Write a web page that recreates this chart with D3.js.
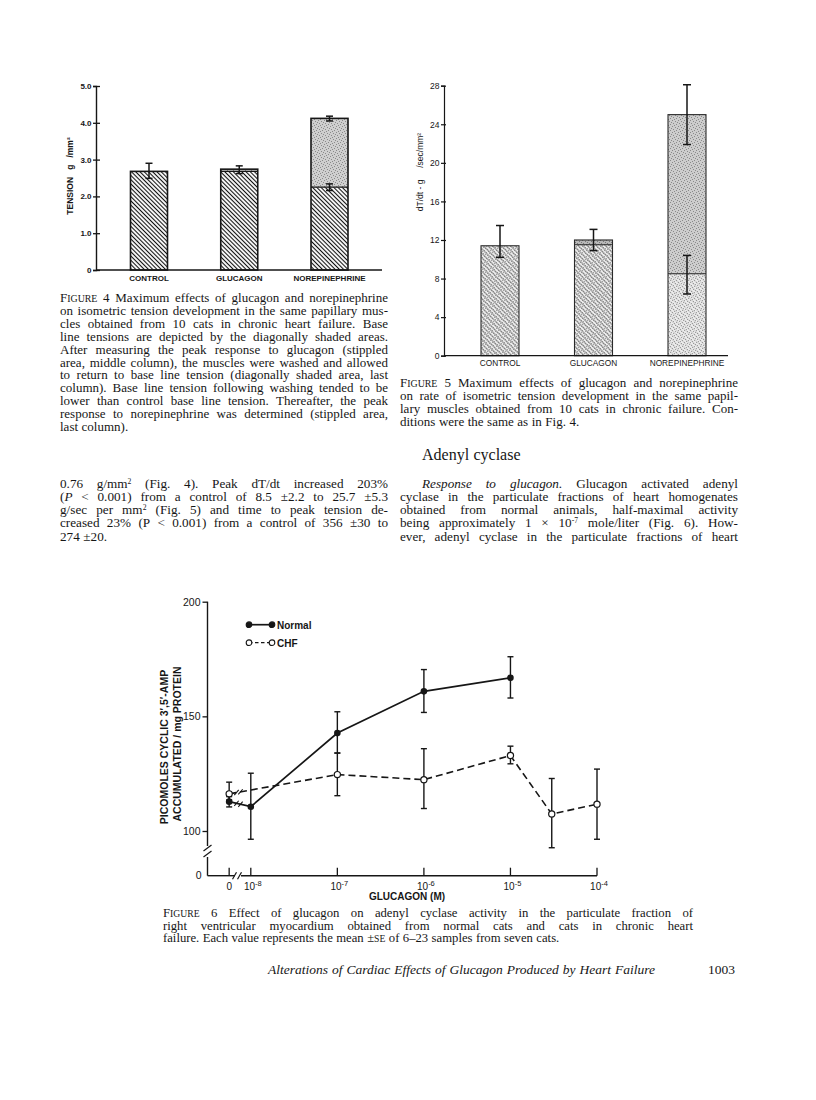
<!DOCTYPE html>
<html><head><meta charset="utf-8">
<script src="https://cdn.jsdelivr.net/npm/d3@7"></script>
<style>body{margin:0;background:#fff}svg{display:block}</style>
</head><body>
<svg id="page" width="816" height="1100"></svg>
<script>
// ---------------- DATA ----------------
// Figure 4 (tension, g/mm2)
const fig4Categories = ["CONTROL", "GLUCAGON", "NOREPINEPHRINE"];
const fig4Base = [2.68, 2.68, 2.25];
const fig4Peak = [2.68, 2.74, 4.12];
const fig4YTicks = [0, 1, 2, 3, 4, 5];
const fig4YTickLabels = ["0", "1.0", "2.0", "3.0", "4.0", "5.0"];
const fig4ErrCategory = ["CONTROL", "GLUCAGON", "NOREPINEPHRINE", "NOREPINEPHRINE"];
const fig4ErrLow = [2.49, 2.62, 4.05, 2.16];
const fig4ErrHigh = [2.90, 2.83, 4.18, 2.34];

// Figure 5 (dT/dt, g/sec/mm2)
const fig5Categories = ["CONTROL", "GLUCAGON", "NOREPINEPHRINE"];
const fig5Base = [11.4, 11.5, 8.5];
const fig5Peak = [11.4, 12.0, 25.0];
const fig5YTicks = [0, 4, 8, 12, 16, 20, 24, 28];
const fig5ErrCategory = ["CONTROL", "GLUCAGON", "NOREPINEPHRINE", "NOREPINEPHRINE"];
const fig5ErrLow = [10.2, 10.9, 21.9, 6.4];
const fig5ErrHigh = [13.5, 13.1, 28.1, 10.4];

// Figure 6 (picomoles cyclic 3',5'-AMP / mg protein)
const fig6Series = ["Normal", "CHF"];
const fig6NormalConc = [0, 1e-8, 1e-7, 1e-6, 1e-5];
const fig6NormalMean = [112.8, 110.6, 142.7, 160.9, 166.8];
const fig6NormalLow = [110.5, 96.4, 134.0, 151.7, 158.0];
const fig6NormalHigh = [115.0, 125.2, 152.0, 170.4, 176.0];
const fig6ChfConc = [0, 1e-7, 1e-6, 1e-5, 3e-5, 1e-4];
const fig6ChfMean = [116.2, 124.6, 122.4, 132.9, 107.4, 111.7];
const fig6ChfLow = [113.5, 115.4, 109.8, 129.3, 92.7, 96.4];
const fig6ChfHigh = [121.3, 134.0, 135.9, 137.0, 122.9, 127.0];
const fig6XTicks = [0, 1e-8, 1e-7, 1e-6, 1e-5, 1e-4];
const fig6XTickExponents = [null, "-8", "-7", "-6", "-5", "-4"];
const fig6YTicks = [100, 150, 200];

// Text
const fig4Caption = [
  "F~IGURE~ 4 Maximum effects of glucagon and norepinephrine",
  "on isometric tension development in the same papillary mus-",
  "cles obtained from 10 cats in chronic heart failure. Base",
  "line tensions are depicted by the diagonally shaded areas.",
  "After measuring the peak response to glucagon (stippled",
  "area, middle column), the muscles were washed and allowed",
  "to return to base line tension (diagonally shaded area, last",
  "column). Base line tension following washing tended to be",
  "lower than control base line tension. Thereafter, the peak",
  "response to norepinephrine was determined (stippled area,",
  "last column)."
];
const fig5Caption = [
  "F~IGURE~ 5 Maximum effects of glucagon and norepinephrine",
  "on rate of isometric tension development in the same papil-",
  "lary muscles obtained from 10 cats in chronic failure. Con-",
  "ditions were the same as in Fig. 4."
];
const leftParagraph = [
  "0.76 g/mm^2^ (Fig. 4). Peak dT/dt increased 203%",
  "(_P_ < 0.001) from a control of 8.5 ±2.2 to 25.7 ±5.3",
  "g/sec per mm^2^ (Fig. 5) and time to peak tension de-",
  "creased 23% (P < 0.001) from a control of 356 ±30 to",
  "274 ±20."
];
const rightHeading = "Adenyl cyclase";
const rightParagraph = [
  "_Response_ _to_ _glucagon._ Glucagon activated adenyl",
  "cyclase in the particulate fractions of heart homogenates",
  "obtained from normal animals, half-maximal activity",
  "being approximately 1 × 10^-7^ mole/liter (Fig. 6). How-",
  "ever, adenyl cyclase in the particulate fractions of heart"
];
const fig6Caption = [
  "F~IGURE~ 6 Effect of glucagon on adenyl cyclase activity in the particulate fraction of",
  "right ventricular myocardium obtained from normal cats and cats in chronic heart",
  "failure. Each value represents the mean ±~SE~ of 6–23 samples from seven cats."
];
const footerTitle = "Alterations of Cardiac Effects of Glucagon Produced by Heart Failure";
const pageNumber = "1003";

// ---------------- SETUP ----------------
const SANS = "Liberation Sans, Arial, sans-serif";
const SERIF = "Liberation Serif, Times New Roman, serif";
const INK = "#161616";
const svg = d3.select("#page");
svg.append("rect").attr("width", 816).attr("height", 1100).attr("fill", "#fff");
const defs = svg.append("defs");

function hatch(id, spacing, stroke, width, bg) {
  const p = defs.append("pattern").attr("id", id).attr("patternUnits", "userSpaceOnUse")
    .attr("width", spacing).attr("height", spacing).attr("patternTransform", "rotate(45)");
  if (bg) p.append("rect").attr("width", spacing).attr("height", spacing).attr("fill", bg);
  p.append("line").attr("x1", 0).attr("x2", spacing).attr("y1", spacing / 2).attr("y2", spacing / 2)
    .attr("stroke", stroke).attr("stroke-width", width);
}
const dotSpots = [[0, 0], [3, 1], [1, 3], [4, 4], [5, 2], [2, 5]];
function stipple(id, bg, dot) {
  const p = defs.append("pattern").attr("id", id).attr("patternUnits", "userSpaceOnUse")
    .attr("width", 6).attr("height", 6);
  p.append("rect").attr("width", 6).attr("height", 6).attr("fill", bg);
  p.selectAll("rect.d").data(dotSpots).join("rect").attr("class", "d")
    .attr("x", d => d[0]).attr("y", d => d[1]).attr("width", 1).attr("height", 1).attr("fill", dot);
}
hatch("hatch4", 3.0, "#111", 1.1, "#fff");
stipple("stip4", "#cfcfcf", "#8a8a8a");
hatch("hatch5", 3.2, "#6a6a6a", 0.8, null);
stipple("stip5light", "#ececec", "#a0a0a0");
stipple("stip5mid", "#cdcdcd", "#8a8a8a");
stipple("stip5dark", "#b8b8b8", "#777");

// ---------------- TEXT HELPERS ----------------
function renderWord(parent, word, y, size, family) {
  const t = parent.append("text").attr("x", 0).attr("y", y).attr("font-size", size)
    .attr("font-family", family).attr("fill", INK);
  const parts = word.split(/(_[^_]+_|\^[^^]+\^|~[^~]+~)/).filter(s => s.length);
  let raised = false;
  const lift = size * 0.3;
  parts.forEach(p => {
    let ts;
    if (p.length > 2 && p[0] === "_" && p.endsWith("_")) {
      ts = t.append("tspan").attr("font-style", "italic").text(p.slice(1, -1));
    } else if (p.length > 2 && p[0] === "^" && p.endsWith("^")) {
      ts = t.append("tspan").attr("font-size", size * 0.58).attr("dy", -lift).text(p.slice(1, -1));
      raised = true;
      return;
    } else if (p.length > 2 && p[0] === "~" && p.endsWith("~")) {
      ts = t.append("tspan").attr("font-size", size * 0.76).text(p.slice(1, -1));
    } else {
      ts = t.append("tspan").text(p);
    }
    if (raised) { ts.attr("dy", lift); raised = false; }
  });
  return t;
}
function textLine(parent, str, x0, width, y, size, opts = {}) {
  const family = opts.family || SERIF;
  const words = str.split(" ").filter(w => w.length);
  const nodes = words.map(w => renderWord(parent, w, y, size, family));
  if (opts.italic) nodes.forEach(n => n.attr("font-style", "italic"));
  const widths = nodes.map(n => n.node().getComputedTextLength());
  const total = d3.sum(widths);
  const gap = (opts.justify && words.length > 1) ? (width - total) / (words.length - 1) : size * 0.27;
  let x = x0;
  nodes.forEach((n, i) => { n.attr("x", x); x += widths[i] + gap; });
}
function paragraph(lines, x0, width, y0, lh, size, lastJustified, indentFirst = 0) {
  const g = svg.append("g");
  lines.forEach((l, i) => {
    const ind = i === 0 ? indentFirst : 0;
    const just = i < lines.length - 1 || lastJustified;
    textLine(g, l, x0 + ind, width - ind, y0 + i * lh, size, { justify: just });
  });
}

// ---------------- FIGURE 4 ----------------
(function () {
  const g = svg.append("g");
  const x = d3.scalePoint().domain(fig4Categories).range([149, 329.5]);
  const y = d3.scaleLinear().domain([0, 5]).range([270, 86]);
  const bw = 37;
  const rows = fig4Categories.map((c, i) => ({ c, base: fig4Base[i], peak: fig4Peak[i] }));
  g.selectAll("rect.base").data(rows).join("rect").attr("class", "base")
    .attr("x", d => x(d.c) - bw / 2).attr("width", bw)
    .attr("y", d => y(d.base)).attr("height", d => y(0) - y(d.base)).attr("fill", "url(#hatch4)");
  g.selectAll("rect.peak").data(rows.filter(d => d.peak > d.base)).join("rect").attr("class", "peak")
    .attr("x", d => x(d.c) - bw / 2).attr("width", bw)
    .attr("y", d => y(d.peak)).attr("height", d => y(d.base) - y(d.peak)).attr("fill", "url(#stip4)");
  g.selectAll("line.split").data(rows.filter(d => d.peak > d.base)).join("line").attr("class", "split")
    .attr("x1", d => x(d.c) - bw / 2).attr("x2", d => x(d.c) + bw / 2)
    .attr("y1", d => y(d.base)).attr("y2", d => y(d.base)).attr("stroke", INK).attr("stroke-width", 1.2);
  g.selectAll("rect.out").data(rows).join("rect").attr("class", "out")
    .attr("x", d => x(d.c) - bw / 2).attr("width", bw)
    .attr("y", d => y(d.peak)).attr("height", d => y(0) - y(d.peak))
    .attr("fill", "none").attr("stroke", INK).attr("stroke-width", 1.6);
  const errs = fig4ErrCategory.map((c, i) => ({ c, lo: fig4ErrLow[i], hi: fig4ErrHigh[i] }));
  const eb = g.selectAll("g.err").data(errs).join("g").attr("class", "err")
    .attr("stroke", INK).attr("stroke-width", 1.5);
  eb.append("line").attr("x1", d => x(d.c)).attr("x2", d => x(d.c)).attr("y1", d => y(d.lo)).attr("y2", d => y(d.hi));
  eb.append("line").attr("x1", d => x(d.c) - 3.5).attr("x2", d => x(d.c) + 3.5).attr("y1", d => y(d.lo)).attr("y2", d => y(d.lo));
  eb.append("line").attr("x1", d => x(d.c) - 3.5).attr("x2", d => x(d.c) + 3.5).attr("y1", d => y(d.hi)).attr("y2", d => y(d.hi));
  const ax = g.append("g").attr("transform", "translate(96,0)")
    .call(d3.axisLeft(y).tickValues(fig4YTicks).tickFormat((d, i) => fig4YTickLabels[i]).tickSizeOuter(0).tickSize(3).tickPadding(1.5));
  ax.select(".domain").attr("stroke", INK).attr("stroke-width", 1.4);
  ax.selectAll(".tick line").attr("x1", 4).attr("x2", -3).attr("stroke", INK).attr("stroke-width", 1.3);
  ax.selectAll(".tick text").attr("font-family", SANS).attr("font-weight", "bold").attr("font-size", 8).attr("fill", INK);
  g.append("line").attr("x1", 96).attr("x2", 382).attr("y1", y(0)).attr("y2", y(0)).attr("stroke", INK).attr("stroke-width", 1.4);
  g.selectAll("text.xl").data(fig4Categories).join("text").attr("class", "xl")
    .attr("x", d => x(d)).attr("y", 280.5).attr("text-anchor", "middle")
    .attr("font-family", SANS).attr("font-weight", "bold").attr("font-size", 8).attr("fill", INK).text(d => d);
  g.append("text").attr("transform", "translate(73,176) rotate(-90)").attr("text-anchor", "middle")
    .attr("font-family", SANS).attr("font-weight", "bold").attr("font-size", 8.5).attr("fill", INK)
    .style("white-space", "pre").text("TENSION   g   /mm²");
})();

// ---------------- FIGURE 5 ----------------
(function () {
  const g = svg.append("g");
  const x = d3.scalePoint().domain(fig5Categories).range([500, 687]);
  const y = d3.scaleLinear().domain([0, 28]).range([355.7, 85.7]);
  const bw = 38;
  const rows = fig5Categories.map((c, i) => ({ c, base: fig5Base[i], peak: fig5Peak[i], i }));
  g.selectAll("rect.base").data(rows).join("rect").attr("class", "base")
    .attr("x", d => x(d.c) - bw / 2).attr("width", bw)
    .attr("y", d => y(d.base)).attr("height", d => y(0) - y(d.base)).attr("fill", "url(#stip5light)");
  g.selectAll("rect.hb").data(rows).join("rect").attr("class", "hb")
    .attr("x", d => x(d.c) - bw / 2).attr("width", bw)
    .attr("y", d => y(d.base)).attr("height", d => y(0) - y(d.base)).attr("fill", "url(#hatch5)")
    .attr("opacity", d => d.i === 2 ? 0.35 : 1);
  g.selectAll("rect.peak").data(rows.filter(d => d.peak > d.base)).join("rect").attr("class", "peak")
    .attr("x", d => x(d.c) - bw / 2).attr("width", bw)
    .attr("y", d => y(d.peak)).attr("height", d => y(d.base) - y(d.peak))
    .attr("fill", d => d.i === 1 ? "url(#stip5dark)" : "url(#stip5mid)");
  g.selectAll("line.split").data(rows.filter(d => d.peak > d.base)).join("line").attr("class", "split")
    .attr("x1", d => x(d.c) - bw / 2).attr("x2", d => x(d.c) + bw / 2)
    .attr("y1", d => y(d.base)).attr("y2", d => y(d.base)).attr("stroke", "#222").attr("stroke-width", 1.1);
  g.selectAll("rect.out").data(rows).join("rect").attr("class", "out")
    .attr("x", d => x(d.c) - bw / 2).attr("width", bw)
    .attr("y", d => y(d.peak)).attr("height", d => y(0) - y(d.peak))
    .attr("fill", "none").attr("stroke", "#2a2a2a").attr("stroke-width", 1.1);
  const errs = fig5ErrCategory.map((c, i) => ({ c, lo: fig5ErrLow[i], hi: fig5ErrHigh[i] }));
  const eb = g.selectAll("g.err").data(errs).join("g").attr("class", "err")
    .attr("stroke", INK).attr("stroke-width", 1.5);
  eb.append("line").attr("x1", d => x(d.c)).attr("x2", d => x(d.c)).attr("y1", d => y(d.lo)).attr("y2", d => y(d.hi));
  eb.append("line").attr("x1", d => x(d.c) - 4).attr("x2", d => x(d.c) + 4).attr("y1", d => y(d.lo)).attr("y2", d => y(d.lo));
  eb.append("line").attr("x1", d => x(d.c) - 4).attr("x2", d => x(d.c) + 4).attr("y1", d => y(d.hi)).attr("y2", d => y(d.hi));
  const ax = g.append("g").attr("transform", "translate(444,0)")
    .call(d3.axisLeft(y).tickValues(fig5YTicks).tickSizeOuter(0).tickSize(3).tickPadding(1.5));
  ax.select(".domain").attr("stroke", INK).attr("stroke-width", 1.2);
  ax.selectAll(".tick line").attr("x1", 2).attr("x2", -3).attr("stroke", INK).attr("stroke-width", 1.2);
  ax.selectAll(".tick text").attr("font-family", SANS).attr("font-size", 8.5).attr("fill", INK);
  g.append("line").attr("x1", 444).attr("x2", 728).attr("y1", y(0)).attr("y2", y(0)).attr("stroke", INK).attr("stroke-width", 1.2);
  g.selectAll("text.xl").data(fig5Categories).join("text").attr("class", "xl")
    .attr("x", d => x(d)).attr("y", 366).attr("text-anchor", "middle")
    .attr("font-family", SANS).attr("font-size", 8.3).attr("fill", INK).text(d => d);
  g.append("text").attr("transform", "translate(423,172) rotate(-90)").attr("text-anchor", "middle")
    .attr("font-family", SANS).attr("font-size", 8.5).attr("fill", INK)
    .style("white-space", "pre").text("dT/dt - g     /sec/mm²");
})();

// ---------------- FIGURE 6 ----------------
(function () {
  const g = svg.append("g");
  const y = d3.scaleLinear().domain([100, 200]).range([831, 601.7]);
  const yZero = 875.7; // broken-axis origin
  const xLog = d3.scaleLog().domain([1e-8, 1e-4]).range([250.8, 597]);
  const x = c => xLog(c === 0 ? Math.pow(10, -8.25) : c);
  const axX = 207.5;
  const line = (x1, y1, x2, y2, w = 1.4) => g.append("line").attr("x1", x1).attr("y1", y1).attr("x2", x2).attr("y2", y2)
    .attr("stroke", INK).attr("stroke-width", w);
  line(axX, y(200), axX, 846);
  line(axX, 857, axX, yZero);
  line(axX - 4, 851, axX + 4, 845, 1.2);
  line(axX - 4, 857, axX + 4, 851, 1.2);
  const ay = g.append("g").attr("transform", `translate(${axX},0)`)
    .call(d3.axisLeft(y).tickValues(fig6YTicks).tickSizeOuter(0).tickSize(5).tickPadding(2));
  ay.select(".domain").remove();
  ay.selectAll(".tick line").attr("stroke", INK).attr("stroke-width", 1.3);
  ay.selectAll(".tick text").attr("font-family", SANS).attr("font-size", 10.5).attr("fill", INK);
  g.append("text").attr("x", axX - 6).attr("y", yZero + 3.5).attr("text-anchor", "end")
    .attr("font-family", SANS).attr("font-size", 10.5).attr("fill", INK).text("0");
  line(axX, yZero, 235, yZero);
  line(241, yZero, 597, yZero);
  line(232.5, yZero + 3.5, 236.5, yZero - 3.5, 1.2);
  line(237.5, yZero + 3.5, 241.5, yZero - 3.5, 1.2);
  g.selectAll("line.xt").data(fig6XTicks).join("line").attr("class", "xt")
    .attr("x1", d => x(d)).attr("x2", d => x(d)).attr("y1", yZero).attr("y2", yZero - 8)
    .attr("stroke", INK).attr("stroke-width", 1.3);
  const xl = g.selectAll("text.xl").data(fig6XTicks.map((c, i) => ({ c, e: fig6XTickExponents[i] })))
    .join("text").attr("class", "xl").attr("x", d => x(d.c) + (d.e ? 2 : 0)).attr("y", 890)
    .attr("text-anchor", "middle").attr("font-family", SANS).attr("font-size", 10).attr("fill", INK);
  xl.each(function (d) {
    const t = d3.select(this);
    if (!d.e) { t.text("0"); return; }
    t.append("tspan").text("10");
    t.append("tspan").attr("dy", -4).attr("font-size", 7.5).text(d.e);
  });
  g.append("text").attr("x", 407).attr("y", 899.5).attr("text-anchor", "middle")
    .attr("font-family", SANS).attr("font-weight", "bold").attr("font-size", 10).attr("fill", INK).text("GLUCAGON (M)");
  g.append("text").attr("transform", "translate(167.5,747) rotate(-90)").attr("text-anchor", "middle")
    .attr("font-family", SANS).attr("font-weight", "bold").attr("font-size", 10.5).attr("fill", INK)
    .text("PICOMOLES CYCLIC 3′,5′-AMP");
  g.append("text").attr("transform", "translate(181,744) rotate(-90)").attr("text-anchor", "middle")
    .attr("font-family", SANS).attr("font-weight", "bold").attr("font-size", 10.5).attr("fill", INK)
    .text("ACCUMULATED / mg PROTEIN");

  const normal = fig6NormalConc.map((c, i) => ({ c, v: fig6NormalMean[i], lo: fig6NormalLow[i], hi: fig6NormalHigh[i] }));
  const chf = fig6ChfConc.map((c, i) => ({ c, v: fig6ChfMean[i], lo: fig6ChfLow[i], hi: fig6ChfHigh[i] }));
  const path = d3.line().x(d => x(d.c)).y(d => y(d.v));
  g.append("path").datum(normal).attr("d", path).attr("fill", "none").attr("stroke", INK).attr("stroke-width", 1.7);
  g.append("path").datum(chf).attr("d", path).attr("fill", "none").attr("stroke", INK).attr("stroke-width", 1.6)
    .attr("stroke-dasharray", "7,4");
  [normal, chf].forEach(s => {
    const x0 = x(s[0].c), y0 = y(s[0].v), x1 = x(s[1].c), y1 = y(s[1].v);
    [236.5, 240.5].forEach(bx => {
      const by = y0 + (y1 - y0) * (bx - x0) / (x1 - x0);
      line(bx - 2.2, by + 2.6, bx + 2.2, by - 2.6, 1.1);
    });
  });
  const allErr = normal.concat(chf);
  const eb = g.selectAll("g.err").data(allErr).join("g").attr("class", "err").attr("stroke", INK).attr("stroke-width", 1.4);
  eb.append("line").attr("x1", d => x(d.c)).attr("x2", d => x(d.c)).attr("y1", d => y(d.lo)).attr("y2", d => y(d.hi));
  eb.append("line").attr("x1", d => x(d.c) - 3).attr("x2", d => x(d.c) + 3).attr("y1", d => y(d.lo)).attr("y2", d => y(d.lo));
  eb.append("line").attr("x1", d => x(d.c) - 3).attr("x2", d => x(d.c) + 3).attr("y1", d => y(d.hi)).attr("y2", d => y(d.hi));
  g.selectAll("circle.n").data(normal).join("circle").attr("class", "n")
    .attr("cx", d => x(d.c)).attr("cy", d => y(d.v)).attr("r", 3.3).attr("fill", INK);
  g.selectAll("circle.h").data(chf).join("circle").attr("class", "h")
    .attr("cx", d => x(d.c)).attr("cy", d => y(d.v)).attr("r", 3.1).attr("fill", "#fff").attr("stroke", INK).attr("stroke-width", 1.2);
  const lg = g.selectAll("g.lg").data(fig6Series).join("g").attr("class", "lg")
    .attr("transform", (d, i) => `translate(0,${624.7 + i * 18})`);
  lg.append("line").attr("x1", 249).attr("x2", 272).attr("stroke", INK).attr("stroke-width", (d, i) => i ? 1.3 : 1.7)
    .attr("stroke-dasharray", (d, i) => i ? "3.5,2.5" : null);
  lg.selectAll("circle").data((d, i) => [i, i]).join("circle")
    .attr("cx", (d, j) => j ? 272 : 249).attr("r", 2.8)
    .attr("fill", d => d ? "#fff" : INK).attr("stroke", INK).attr("stroke-width", 1.1);
  lg.append("text").attr("x", 277).attr("y", 3.8).attr("font-family", SANS).attr("font-weight", "bold")
    .attr("font-size", 10).attr("fill", INK).text(d => d);
})();

// ---------------- PAGE TEXT ----------------
paragraph(fig4Caption, 60, 328, 302, 12.9, 13, false);
paragraph(fig5Caption, 400, 338, 387, 12.9, 13, false);
textLine(svg.append("g"), rightHeading, 422, 97, 460, 16, {});
paragraph(leftParagraph, 60, 328, 487.5, 13.25, 13.2, false);
paragraph(rightParagraph, 400, 338, 487.5, 13.25, 13.2, true, 22);
paragraph(fig6Caption, 163, 530, 917, 12.6, 12.7, false);
textLine(svg.append("g"), footerTitle, 268, 387, 974, 13.5, { justify: true, italic: true });
svg.append("text").attr("x", 735).attr("y", 974).attr("text-anchor", "end").attr("font-family", SERIF)
  .attr("font-size", 13.5).attr("fill", INK).text(pageNumber);
</script>
</body></html>
